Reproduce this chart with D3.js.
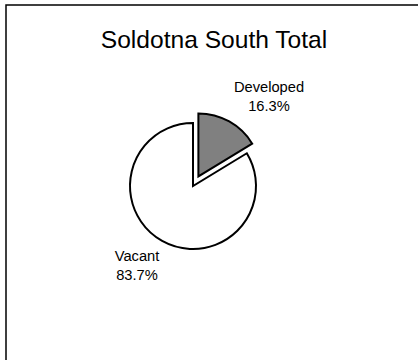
<!DOCTYPE html>
<html><head><meta charset="utf-8">
<script src="https://cdn.jsdelivr.net/npm/d3@7"></script>
<style>html,body{margin:0;padding:0;background:#fff;}svg{display:block;}</style>
</head><body>
<script>
const categories = ["Developed", "Vacant"];
const values = [16.3, 83.7];
const percentLabels = ["16.3%", "83.7%"];
const title = "Soldotna South Total";

const W = 418, H = 360;
const svg = d3.select("body").append("svg").attr("width", W).attr("height", H);

svg.append("rect").attr("x", 6).attr("y", 5).attr("width", 430).attr("height", 380)
  .attr("fill", "#fff").attr("stroke", "#000").attr("stroke-width", 1.5);

svg.append("text").attr("x", 214).attr("y", 48).attr("text-anchor", "middle")
  .style("font-family", "Liberation Sans, Arial, sans-serif").style("font-size", "24.6px")
  .text(title);

const cx = 193, cy = 186, r = 63, explode = 11;
const data = categories.map((c, i) => ({ cat: c, value: values[i], label: percentLabels[i] }));
const pie = d3.pie().value(d => d.value).sort(null);
const arcs = pie(data);
const arc = d3.arc().innerRadius(0).outerRadius(r);
const fills = ["#808080", "#ffffff"];

const g = svg.append("g").attr("transform", `translate(${cx},${cy})`);
g.selectAll("path").data(arcs).join("path")
  .attr("d", arc)
  .attr("transform", (d, i) => {
    if (i !== 0) return null;
    const m = (d.startAngle + d.endAngle) / 2;
    return `translate(${explode * Math.sin(m)},${-explode * Math.cos(m)})`;
  })
  .attr("fill", (d, i) => fills[i])
  .attr("stroke", "#000").attr("stroke-width", 2).attr("stroke-linejoin", "miter");

const labelPos = [[269, 92], [137, 261]];
const lt = svg.selectAll("text.lbl").data(arcs).join("text").attr("class", "lbl")
  .attr("text-anchor", "middle")
  .style("font-family", "Liberation Sans, Arial, sans-serif").style("font-size", "14.7px")
  .attr("x", (d, i) => labelPos[i][0]).attr("y", (d, i) => labelPos[i][1]);
lt.append("tspan").text(d => d.data.cat);
lt.append("tspan").attr("x", (d, i) => labelPos[i][0]).attr("dy", 19).text(d => d.data.label);
</script>
</body></html>
